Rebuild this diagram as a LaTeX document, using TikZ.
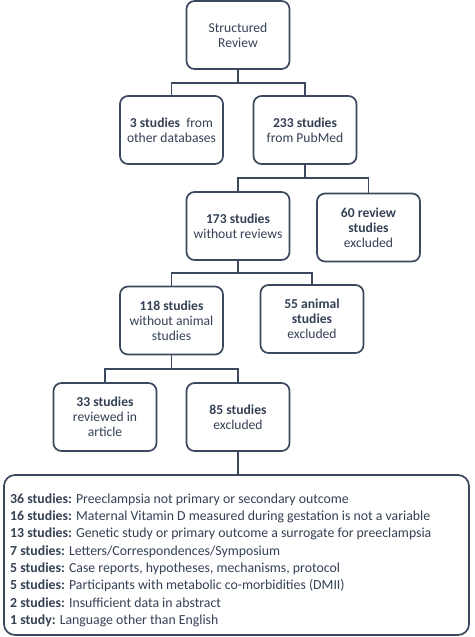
\documentclass[tikz,border=0pt]{standalone}
\usepackage{fontspec}
\setmainfont{Carlito}
\definecolor{ink}{RGB}{59,72,94}
\definecolor{txt}{RGB}{52,64,84}
\begin{document}
\begin{tikzpicture}[x=1pt,y=-1pt,
  box/.style={draw=ink,line width=1.7pt,rounded corners=8pt,text=txt,align=center,
    minimum width=103pt,minimum height=68pt,inner sep=2pt,font=\fontsize{13.6}{15}\selectfont},
  conn/.style={draw=ink,line width=1.7pt}]
\useasboundingbox (0,0) rectangle (474,637);
\node[box] (sr) at (238,35) {Structured\\Review};
\node[box] (db) at (171.5,130) {\textbf{3 studies}\ \ from\\other databases};
\node[box] (pm) at (305,130) {\textbf{233 studies}\\from PubMed};
\node[box] (nr) at (238,226) {\textbf{173 studies}\\without reviews};
\node[box] (rv) at (368.5,227.5) {\textbf{60 review}\\\textbf{studies}\\excluded};
\node[box] (na) at (171.5,320.5) {\textbf{118 studies}\\without animal\\studies};
\node[box] (an) at (312,319) {\textbf{55 animal}\\\textbf{studies}\\excluded};
\node[box] (ar) at (105,417) {\textbf{33 studies}\\reviewed in\\article};
\node[box] (ex) at (238,417) {\textbf{85 studies}\\excluded};
\node[draw=ink,line width=1.7pt,rounded corners=11pt,minimum width=465pt,minimum height=160pt] (lb) at (236.5,555) {};
\node[anchor=north west,text=txt,align=left,inner sep=0pt,font=\fontsize{13.8}{17.3}\selectfont] (ls) at (10,493.5)
{\textbf{36 studies:} Preeclampsia not primary or secondary outcome\\
\textbf{16 studies:} Maternal Vitamin D measured during gestation is not a variable\\
\textbf{13 studies:} Genetic study or primary outcome a surrogate for preeclampsia\\
\textbf{7 studies:} Letters/Correspondences/Symposium\\
\textbf{5 studies:} Case reports, hypotheses, mechanisms, protocol\\
\textbf{5 studies:} Participants with metabolic co-morbidities (DMII)\\
\textbf{2 studies:} Insufficient data in abstract\\
\textbf{1 study:} Language other than English};
\coordinate (j1) at (238,83);
\coordinate (j2) at (305,178);
\coordinate (j3) at (238,273);
\coordinate (j4) at (171.5,369);
\draw[conn] (sr.south) -- (j1);
\draw[conn] (db.north) |- (j1) -| (pm.north);
\draw[conn] (pm.south) -- (j2);
\draw[conn] (nr.north) |- (j2) -| (rv.north);
\draw[conn] (nr.south) -- (j3);
\draw[conn] (na.north) |- (j3) -| (an.north);
\draw[conn] (na.south) -- (j4);
\draw[conn] (ar.north) |- (j4) -| (ex.north);
\draw[conn] (ex.south) -- (ex.south |- lb.north);
\end{tikzpicture}
\end{document}
